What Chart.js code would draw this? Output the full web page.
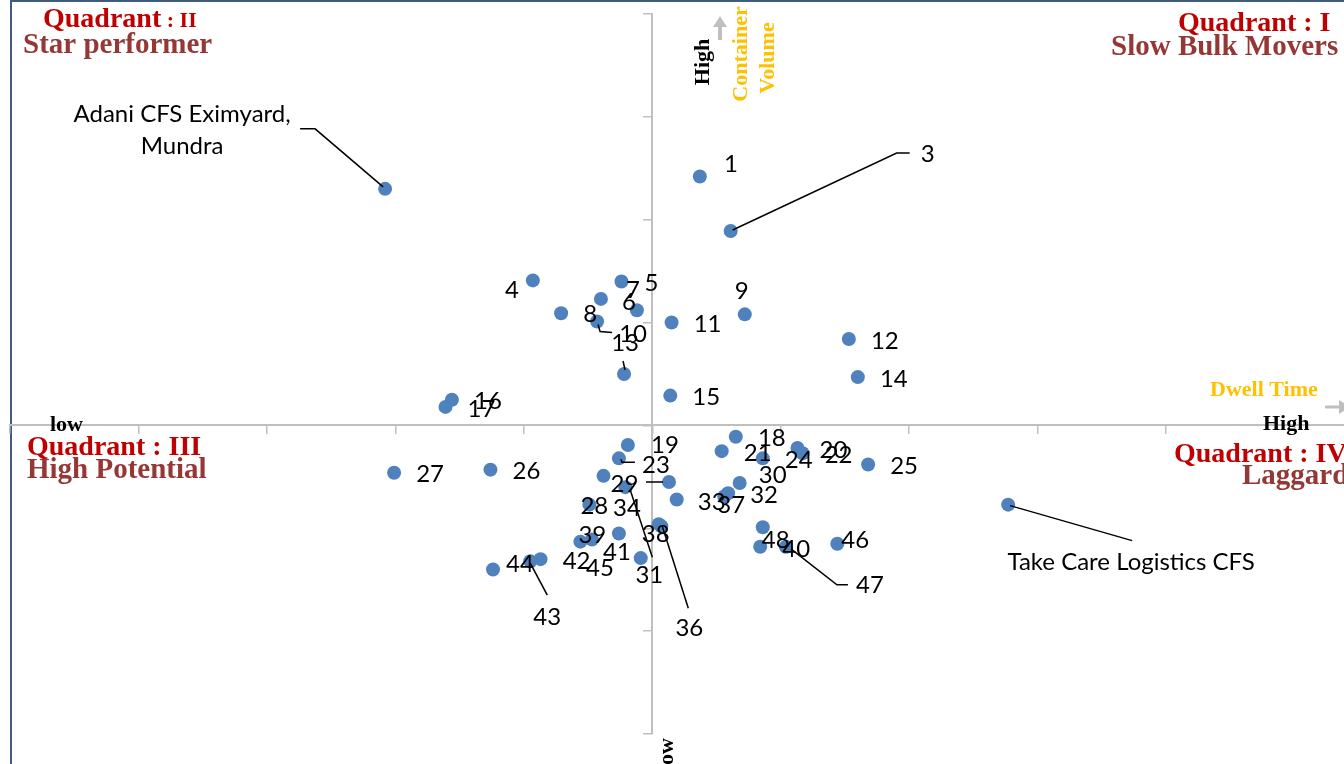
<!DOCTYPE html>
<html>
<head>
<meta charset="utf-8">
<script src="https://cdn.jsdelivr.net/npm/chart.js@4.4.1/dist/chart.umd.min.js"></script>
<style>
html, body { margin: 0; padding: 0; background: #fff; }
#wrap { width: 1344px; height: 764px; position: relative; overflow: hidden; }
</style>
</head>
<body>
<div id="wrap"><canvas id="myChart" width="1353" height="764"></canvas></div>
<script>
// CFS sites: dwell time (x, centred) vs container volume (y, centred)
var siteLabels = ['Adani CFS Eximyard, Mundra', '1', '3', '4', '5', '6', '7', '8', '9', '10',
    '11', '12', '13', '14', '15', '16', '17', '18', '19', '20',
    '21', '22', '23', '24', '25', '26', '27', '28', '29', '30',
    '31', '32', '33', '34', '', '36', '37', '38', '39', '40',
    '41', '42', '43', '44', '45', '46', '47', '48', 'Take Care Logistics CFS'];
var dwellTime = [-2.08, 0.37, 0.61, -0.93, -0.24, -0.12, -0.40, -0.71, 0.72, -0.43,
    0.15, 1.53, -0.22, 1.60, 0.14, -1.56, -1.61, 0.65, -0.19, 1.13,
    0.54, 1.17, -0.26, 0.86, 1.68, -1.26, -2.01, -0.49, -0.38, 0.68,
    -0.21, 0.59, 0.19, 0.13, -0.09, 0.07, 0.56, 0.05, -0.56, 0.84,
    -0.26, -0.87, -0.95, -1.24, -0.47, 1.44, 1.04, 0.86, 2.77];
var containerVolume = [2.30, 2.42, 1.89, 1.41, 1.40, 1.12, 1.23, 1.09, 1.08, 1.01,
    1.00, 0.84, 0.50, 0.47, 0.29, 0.25, 0.18, -0.11, -0.19, -0.22,
    -0.25, -0.27, -0.32, -0.32, -0.38, -0.43, -0.46, -0.77, -0.49, -0.56,
    -0.60, -0.66, -0.72, -0.55, -1.29, -0.98, -0.69, -0.96, -1.13, -1.18,
    -1.05, -1.30, -1.32, -1.40, -1.11, -1.15, -1.18, -0.99, -0.77];

// label placement (pixel offsets from the point), default is right of the point
var labelOffsets = {
    'Adani CFS Eximyard, Mundra': [-203, -59], '1': [31, -12], '3': [197, -77], '4': [-21, 10],
    '5': [30, 2], '6': [-8, -8], '7': [32, -9], '8': [29, 1], '9': [-3, -23], '10': [36, 13],
    '13': [1, -31], '19': [37, 0], '23': [37, 7], '28': [5, 2], '29': [21, 8], '30': [33, -8],
    '31': [24, 88], '33': [35, 3], '34': [-42, 26], '36': [28, 102], '37': [7, 9], '38': [-3, 10],
    '39': [12, -6], '41': [-2, 19], '43': [17, 56], '44': [27, -5], '45': [8, 29], '46': [18, -3],
    '47': [84, 38], '48': [13, 13], 'Take Care Logistics CFS': [123, 58]
};
var leaderLines = {
    'Adani CFS Eximyard, Mundra': [[-2, -2], [-70, -60], [-85, -60]],
    '3': [[2, -1], [166, -78], [179, -78]],
    '10': [[1, 3], [3, 10], [15, 11]],
    '13': [[-1, -13], [1, -4]],
    '23': [[2, 1], [3, 4], [16, 4]],
    '31': [[5, 3], [27, 70]],
    '34': [[-6, 0], [-23, 0]],
    '36': [[1, 0], [27, 82]],
    '43': [[0, 2], [17, 34]],
    '47': [[5, 2], [51, 38], [62, 38]],
    'Take Care Logistics CFS': [[2, 1], [124, 36]]
};
var labelLines = { 'Adani CFS Eximyard, Mundra': ['Adani CFS Eximyard,', 'Mundra'] };
var defaultOffset = [36, 2];

var points = dwellTime.map(function (x, i) { return { x: x, y: containerVolume[i] }; });

var pointLabels = {
    id: 'pointLabels',
    afterDatasetsDraw: function (chart) {
        var ctx = chart.ctx;
        var meta = chart.getDatasetMeta(0);
        ctx.save();
        ctx.strokeStyle = '#000';
        ctx.lineWidth = 1.5;
        ctx.fillStyle = '#000';
        ctx.font = '24px Lato, "Open Sans", sans-serif';
        ctx.textAlign = 'center';
        ctx.textBaseline = 'middle';
        meta.data.forEach(function (pt, i) {
            var name = siteLabels[i];
            if (!name) return;
            var off = labelOffsets[name] || defaultOffset;
            var lead = leaderLines[name];
            if (lead) {
                ctx.beginPath();
                lead.forEach(function (p, k) {
                    if (k === 0) ctx.moveTo(pt.x + p[0], pt.y + p[1]);
                    else ctx.lineTo(pt.x + p[0], pt.y + p[1]);
                });
                ctx.stroke();
            }
            var lines = labelLines[name] || [name];
            lines.forEach(function (t, k) {
                ctx.fillText(t, pt.x + off[0], pt.y + off[1] + (k - (lines.length - 1) / 2) * 32);
            });
        });
        ctx.restore();
    }
};

function serif(size) { return 'bold ' + size + 'px "Liberation Serif", "DejaVu Serif", serif'; }

var decorations = {
    id: 'decorations',
    beforeDraw: function (chart) {
        var ctx = chart.ctx;
        ctx.save();
        ctx.strokeStyle = '#3f5b7d';
        ctx.lineWidth = 2;
        ctx.beginPath();
        ctx.moveTo(11, 0); ctx.lineTo(11, 764);
        ctx.moveTo(10, 1); ctx.lineTo(1353, 1);
        ctx.stroke();
        ctx.restore();
    },
    afterDraw: function (chart) {
        var ctx = chart.ctx;
        ctx.save();
        ctx.textBaseline = 'alphabetic';
        ctx.textAlign = 'left';

        // quadrant titles
        ctx.fillStyle = '#c00000';
        ctx.font = serif(28);
        ctx.fillText('Quadrant', 43, 27);
        var w = ctx.measureText('Quadrant').width;
        ctx.font = serif(22);
        ctx.fillText(' : II', 43 + w, 27);
        ctx.font = serif(28);
        ctx.fillText('Quadrant : I', 1178, 31);
        ctx.fillText('Quadrant : III', 27, 455);
        ctx.fillText('Quadrant : IV', 1174, 462);
        ctx.fillStyle = '#953735';
        ctx.font = serif(29);
        ctx.fillText('Star performer', 23, 53);
        ctx.fillText('Slow Bulk Movers', 1111, 55);
        ctx.fillText('High Potential', 27, 478);
        ctx.fillText('Laggard', 1242, 484);

        // axis end words
        ctx.fillStyle = '#000';
        ctx.font = serif(22);
        ctx.fillText('low', 50, 431);
        ctx.fillText('High', 1263, 430);
        ctx.fillStyle = '#ffc000';
        ctx.fillText('Dwell Time', 1210, 396);

        ctx.save();
        ctx.translate(709, 62);
        ctx.rotate(-Math.PI / 2);
        ctx.textAlign = 'center';
        ctx.fillStyle = '#000';
        ctx.fillText('High', 0, 0);
        ctx.restore();

        ctx.save();
        ctx.translate(747, 54);
        ctx.rotate(-Math.PI / 2);
        ctx.textAlign = 'center';
        ctx.fillStyle = '#ffc000';
        ctx.fillText('Container', 0, 0);
        ctx.restore();

        ctx.save();
        ctx.translate(774, 58);
        ctx.rotate(-Math.PI / 2);
        ctx.textAlign = 'center';
        ctx.fillStyle = '#ffc000';
        ctx.fillText('Volume', 0, 0);
        ctx.restore();

        ctx.save();
        ctx.translate(673, 738);
        ctx.rotate(-Math.PI / 2);
        ctx.textAlign = 'right';
        ctx.fillStyle = '#000';
        ctx.fillText('low', 0, 0);
        ctx.restore();

        // arrows
        ctx.fillStyle = '#bfbfbf';
        ctx.strokeStyle = '#bfbfbf';
        ctx.lineWidth = 4;
        ctx.beginPath();
        ctx.moveTo(720, 40); ctx.lineTo(720, 26);
        ctx.stroke();
        ctx.beginPath();
        ctx.moveTo(713, 27); ctx.lineTo(727, 27); ctx.lineTo(720, 16);
        ctx.closePath(); ctx.fill();
        ctx.lineWidth = 3;
        ctx.beginPath();
        ctx.moveTo(1325, 407); ctx.lineTo(1340, 407);
        ctx.stroke();
        ctx.beginPath();
        ctx.moveTo(1339, 400); ctx.lineTo(1339, 414); ctx.lineTo(1350, 407);
        ctx.closePath(); ctx.fill();
        ctx.restore();
    }
};

var ctx = document.getElementById('myChart').getContext('2d');
var myChart = new Chart(ctx, {
    type: 'scatter',
    data: {
        datasets: [{
            data: points,
            backgroundColor: '#4f81bd',
            borderWidth: 0,
            pointRadius: 7,
            pointHoverRadius: 7
        }]
    },
    options: {
        responsive: false,
        animation: false,
        layout: { padding: { left: 10, top: 14, right: 0, bottom: 30 } },
        plugins: {
            legend: { display: false },
            tooltip: { enabled: false }
        },
        scales: {
            x: {
                type: 'linear',
                min: -5,
                max: 5.4,
                position: { y: 0 },
                ticks: { display: false, stepSize: 1 },
                grid: { drawOnChartArea: false, drawTicks: true, tickLength: 8, color: '#bfbfbf', lineWidth: 1.5 },
                border: { display: true, color: '#bfbfbf', width: 2 }
            },
            y: {
                type: 'linear',
                min: -3,
                max: 4,
                position: { x: 0 },
                ticks: { display: false, stepSize: 1 },
                grid: { drawOnChartArea: false, drawTicks: true, tickLength: 8, color: '#bfbfbf', lineWidth: 1.5 },
                border: { display: true, color: '#bfbfbf', width: 2 }
            }
        }
    },
    plugins: [pointLabels, decorations]
});
</script>
</body>
</html>
